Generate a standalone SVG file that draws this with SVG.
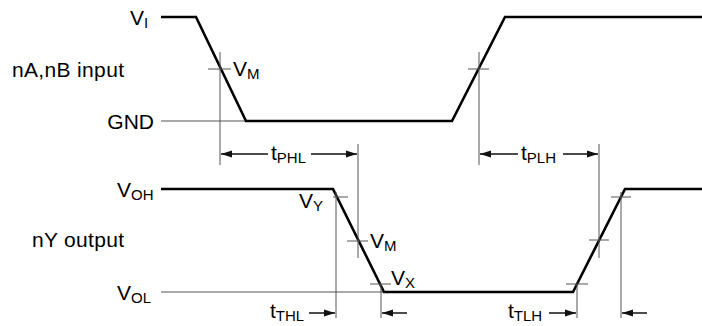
<svg xmlns="http://www.w3.org/2000/svg" width="702" height="326" viewBox="0 0 702 326">
  <style>
    .wave { fill: none; stroke: #000; stroke-width: 2.6; stroke-linejoin: miter; }
    .thin { fill: none; stroke: #555; stroke-width: 1; }
    .dim { fill: none; stroke: #111; stroke-width: 1.5; }
    text { font-family: "Liberation Sans", Arial, sans-serif; font-size: 21px; fill: #000; }
    .sub { font-size: 15px; }
  </style>
  <defs>
    <marker id="arr" markerUnits="userSpaceOnUse" markerWidth="12" markerHeight="8" refX="11" refY="4" orient="auto">
      <path d="M0,0.5 L11,4 L0,7.5 z" fill="#111"/>
    </marker>
  </defs>
  <rect width="702" height="326" fill="#fff"/>

  <g id="input-labels">
    <text x="130" y="25">V<tspan class="sub" dy="3">I</tspan></text>
    <text x="12" y="77" textLength="112">nA,nB input</text>
    <text x="154" y="129" text-anchor="end">GND</text>
  </g>
  <g id="output-labels">
    <text x="117" y="197">V<tspan class="sub" dy="3">OH</tspan></text>
    <text x="32" y="247" textLength="92">nY output</text>
    <text x="117" y="300">V<tspan class="sub" dy="3">OL</tspan></text>
  </g>

  <g id="input-waveform">
    <line class="thin" x1="161" y1="121" x2="246" y2="121"/>
    <polyline class="wave" points="161,17 196,17 246,121 452,121 505,17 702,17"/>
  </g>
  <g id="output-waveform">
    <line class="thin" x1="161" y1="292" x2="384" y2="292"/>
    <polyline class="wave" points="161,189 333,189 384,292 573,292 625,189 702,189"/>
  </g>

  <g id="connectors">
    <line class="thin" x1="220" y1="52" x2="220" y2="165"/>
    <line class="thin" x1="208" y1="69" x2="231" y2="69"/>
    <line class="thin" x1="479" y1="52" x2="479" y2="165"/>
    <line class="thin" x1="468" y1="69" x2="489" y2="69"/>
    <line class="thin" x1="333" y1="197" x2="348" y2="197"/>
    <line class="thin" x1="336" y1="192" x2="336" y2="318"/>
    <line class="thin" x1="347" y1="241" x2="368" y2="241"/>
    <line class="thin" x1="358" y1="144" x2="358" y2="258"/>
    <line class="thin" x1="370" y1="284" x2="391" y2="284"/>
    <line class="thin" x1="381" y1="284" x2="381" y2="318"/>
    <line class="thin" x1="566" y1="284" x2="588" y2="284"/>
    <line class="thin" x1="577" y1="284" x2="577" y2="318"/>
    <line class="thin" x1="589" y1="240" x2="609" y2="240"/>
    <line class="thin" x1="599" y1="144" x2="599" y2="258"/>
    <line class="thin" x1="611" y1="197" x2="631" y2="197"/>
    <line class="thin" x1="621" y1="192" x2="621" y2="318"/>
    <line class="dim" x1="268" y1="154" x2="221" y2="154" marker-end="url(#arr)"/>
    <line class="dim" x1="311" y1="154" x2="357" y2="154" marker-end="url(#arr)"/>
    <line class="dim" x1="518" y1="154" x2="480" y2="154" marker-end="url(#arr)"/>
    <line class="dim" x1="563" y1="154" x2="598" y2="154" marker-end="url(#arr)"/>
    <line class="dim" x1="309" y1="313" x2="335" y2="313" marker-end="url(#arr)"/>
    <line class="dim" x1="407" y1="313" x2="382" y2="313" marker-end="url(#arr)"/>
    <line class="dim" x1="549" y1="313" x2="576" y2="313" marker-end="url(#arr)"/>
    <line class="dim" x1="647" y1="313" x2="622" y2="313" marker-end="url(#arr)"/>
  </g>

  <g id="measure-labels">
    <text x="233" y="76">V<tspan class="sub" dy="3">M</tspan></text>
    <text x="299" y="208">V<tspan class="sub" dy="3">Y</tspan></text>
    <text x="370" y="248">V<tspan class="sub" dy="3">M</tspan></text>
    <text x="391" y="285">V<tspan class="sub" dy="3">X</tspan></text>
    <text x="271" y="160">t<tspan class="sub" dy="3">PHL</tspan></text>
    <text x="521" y="160">t<tspan class="sub" dy="3">PLH</tspan></text>
    <text x="270" y="318">t<tspan class="sub" dy="3">THL</tspan></text>
    <text x="508" y="318">t<tspan class="sub" dy="3">TLH</tspan></text>
  </g>
</svg>
